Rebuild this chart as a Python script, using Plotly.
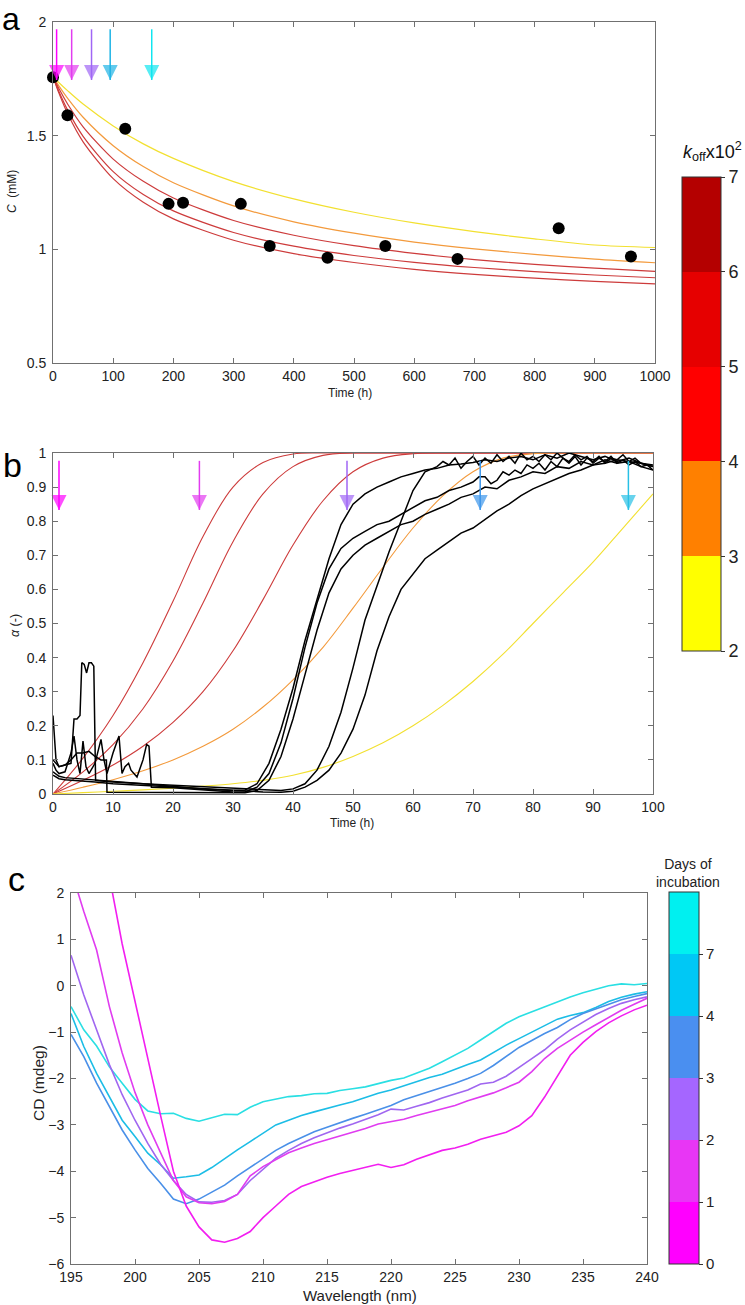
import plotly.graph_objects as go

# ---------------- data: panel a ----------------
a_obs_time = [0, 24, 120, 192, 216, 312, 360, 456, 552, 672, 840, 960]
a_obs_conc = [1.757, 1.59, 1.53, 1.20, 1.205, 1.20, 1.015, 0.963, 1.015, 0.958, 1.093, 0.968]

a_fit_time = [0, 10, 25, 50, 100, 150, 200, 300, 400, 500, 600, 700, 800, 900, 1000]
a_fit_k2 = [1.76, 1.733, 1.696, 1.639, 1.543, 1.464, 1.40, 1.298, 1.222, 1.163, 1.116, 1.078, 1.046, 1.019, 1.008]
a_fit_k3 = [1.76, 1.718, 1.662, 1.581, 1.456, 1.364, 1.293, 1.191, 1.121, 1.071, 1.032, 1.002, 0.978, 0.957, 0.941]
a_fit_k4 = [1.76, 1.706, 1.636, 1.539, 1.397, 1.299, 1.226, 1.127, 1.062, 1.016, 0.982, 0.955, 0.934, 0.917, 0.903]
a_fit_k5 = [1.76, 1.693, 1.609, 1.497, 1.342, 1.241, 1.169, 1.074, 1.014, 0.973, 0.943, 0.920, 0.902, 0.887, 0.875]
a_fit_k6 = [1.76, 1.686, 1.593, 1.473, 1.311, 1.207, 1.134, 1.040, 0.981, 0.942, 0.912, 0.890, 0.873, 0.859, 0.848]

a_arrow_time = [6, 31, 64, 95, 164]
a_arrow_colors = ['#ff00ff', '#e23cf0', '#a066f5', '#1eb4e6', '#10e6f0']
a_arrow_tail, a_arrow_tip = 1.968, 1.745

# ---------------- data: panel b ----------------
b_fit_time = [0, 5, 10, 15, 20, 25, 30, 35, 40, 45, 50, 55, 60, 65, 70, 75, 80, 85, 90, 95, 100]
b_fit_k6 = [0, 0.105, 0.23, 0.385, 0.565, 0.755, 0.90, 0.972, 0.997, 1, 1, 1, 1, 1, 1, 1, 1, 1, 1, 1, 1]
b_fit_k5 = [0, 0.065, 0.145, 0.25, 0.39, 0.56, 0.74, 0.88, 0.96, 0.993, 1, 1, 1, 1, 1, 1, 1, 1, 1, 1, 1]
b_fit_k4 = [0, 0.04, 0.085, 0.14, 0.21, 0.30, 0.42, 0.57, 0.73, 0.86, 0.945, 0.985, 0.998, 1, 1, 1, 1, 1, 1, 1, 1]
b_fit_k3 = [0, 0.02, 0.042, 0.068, 0.10, 0.14, 0.19, 0.255, 0.335, 0.43, 0.545, 0.665, 0.78, 0.875, 0.945, 0.985, 0.998, 1, 1, 1, 1]
b_fit_k2 = [0, 0.004, 0.008, 0.012, 0.017, 0.023, 0.03, 0.04, 0.055, 0.078, 0.11, 0.15, 0.20, 0.26, 0.33, 0.41, 0.50, 0.59, 0.68, 0.78, 0.88]

b_exp1_t = [0, 0.5, 1, 2, 3, 3.5, 4, 4.5, 4.8, 5.2, 5.6, 6, 6.4, 6.8, 7.1, 8, 10, 15, 20, 25,
            30, 32, 34, 36, 38, 40, 42, 44, 46, 48, 50, 52, 54, 56, 58, 60, 62, 64, 66, 68,
            70, 72, 74, 76, 78, 80, 82, 84, 86, 88, 90, 92, 94, 96, 98, 100]
b_exp1_a = [0.23, 0.10, 0.08, 0.085, 0.09, 0.22, 0.22, 0.23, 0.385, 0.38, 0.355, 0.385, 0.385, 0.375, 0.04, 0.038, 0.035, 0.03, 0.022, 0.015,
            0.01, 0.012, 0.03, 0.09, 0.19, 0.31, 0.45, 0.57, 0.69, 0.79, 0.85, 0.88, 0.90, 0.915, 0.93, 0.94, 0.95, 0.955, 0.965, 0.968,
            0.972, 0.98, 0.975, 0.985, 0.99, 0.98, 0.995, 0.985, 1.0, 0.99, 0.98, 0.99, 0.975, 0.985, 0.97, 0.96]

b_exp2_t = [0, 0.5, 1, 2, 3, 3.5, 4, 4.5, 5, 5.5, 6, 7, 8, 8.5, 9, 10, 11, 11.5, 12, 12.6,
            13, 14, 15, 15.6, 16, 16.4, 20, 25, 30, 32, 34, 36, 38, 40, 42, 44, 46, 48, 50, 52,
            54, 56, 58, 60, 62, 64, 66, 68] + list(range(70, 101))
b_exp2_a = [0.09, 0.07, 0.06, 0.065, 0.12, 0.17, 0.10, 0.06, 0.155, 0.08, 0.06, 0.09, 0.16, 0.10, 0.06, 0.12, 0.17, 0.06, 0.08, 0.09,
            0.07, 0.05, 0.10, 0.145, 0.14, 0.02, 0.018, 0.012, 0.006, 0.006, 0.02, 0.06, 0.15, 0.28, 0.43, 0.56, 0.66, 0.72, 0.75, 0.77,
            0.79, 0.80, 0.82, 0.84, 0.86, 0.87, 0.89, 0.90,
            0.915, 0.93, 0.93, 0.91, 0.92, 0.945, 0.935, 0.95, 0.94, 0.965, 0.955, 0.97, 0.95, 0.975, 0.96, 0.985,
            0.97, 0.99, 0.965, 0.985, 0.975, 0.99, 0.97, 0.985, 0.98, 0.995, 0.975, 0.985, 0.97, 0.965, 0.96]

b_exp3_t = [0, 1, 2, 3, 4, 5, 6, 7, 8, 8.9, 9, 10, 15, 20, 25, 30, 32, 34, 36, 38,
            40, 42, 44, 46, 48, 50, 52, 54, 56, 58, 60, 62, 64, 66, 68, 70, 72, 74, 76, 78,
            80, 82, 84, 86, 88, 90, 92, 94, 96, 98, 100]
b_exp3_a = [0.10, 0.08, 0.085, 0.10, 0.12, 0.12, 0.125, 0.11, 0.10, 0.10, 0.005, 0.005, 0.004, 0.004, 0.003, 0.003, 0.004, 0.01, 0.04, 0.11,
            0.22, 0.35, 0.48, 0.59, 0.66, 0.70, 0.73, 0.75, 0.77, 0.79, 0.80, 0.82, 0.835, 0.85, 0.87, 0.88, 0.90, 0.895, 0.92, 0.93,
            0.945, 0.94, 0.96, 0.955, 0.975, 0.965, 0.98, 0.97, 0.975, 0.96, 0.95]

b_exp4_t = [0, 1, 2, 4, 7, 10, 15, 20, 25, 30, 35, 38, 40, 42, 44, 46, 48, 50, 52, 54,
            56, 58, 60, 62] + list(range(64, 101))
b_exp4_a = [0.065, 0.052, 0.048, 0.045, 0.04, 0.036, 0.03, 0.026, 0.022, 0.018, 0.014, 0.01, 0.015, 0.03, 0.07, 0.14, 0.24, 0.37, 0.51, 0.61,
            0.71, 0.80, 0.89, 0.945,
            0.96, 0.975, 0.965, 0.985, 0.955, 0.975, 0.99, 0.965, 0.985, 0.97, 0.995, 0.975, 0.99, 0.97, 1.0, 0.98,
            0.99, 0.975, 0.995, 0.98, 1.0, 0.985, 0.975, 0.995, 0.98, 0.99, 0.97, 0.985, 0.975, 0.99, 0.97, 0.98,
            0.965, 0.975, 0.96, 0.965, 0.95]

b_exp5_t = [0, 1, 2, 4, 7, 10, 15, 20, 25, 30, 35, 38, 40, 42, 44, 46, 48, 50, 52, 54,
            56, 58, 60, 62, 64, 66, 68, 70, 72, 74, 76, 78, 80, 82, 84, 86, 88, 90, 92, 94,
            96, 98, 100]
b_exp5_a = [0.055, 0.045, 0.042, 0.04, 0.035, 0.03, 0.025, 0.02, 0.015, 0.01, 0.006, 0.005, 0.008, 0.02, 0.04, 0.07, 0.12, 0.19, 0.29, 0.42,
            0.52, 0.60, 0.645, 0.69, 0.715, 0.74, 0.765, 0.78, 0.805, 0.83, 0.85, 0.875, 0.895, 0.91, 0.925, 0.94, 0.95, 0.965, 0.97, 0.98,
            0.975, 0.97, 0.965]

b_arrow_time = [1, 24.4, 49, 71.2, 95.9]
b_arrow_colors = ['#ff00ff', '#e23cf0', '#a066f5', '#3c96eb', '#28c0e6']
b_arrow_tail, b_arrow_tip = 0.977, 0.833

# ---------------- data: panel c ----------------
wavelength = list(range(195, 241))
cd_day7 = [-0.45, -0.95, -1.30, -1.75, -2.10, -2.45, -2.70, -2.76, -2.75, -2.86, -2.92, -2.84, -2.77, -2.78, -2.62, -2.50,
           -2.44, -2.39, -2.37, -2.33, -2.32, -2.26, -2.22, -2.18, -2.11, -2.04, -1.99, -1.89, -1.78, -1.64, -1.49, -1.35,
           -1.17, -0.99, -0.81, -0.67, -0.56, -0.45, -0.34, -0.24, -0.15, -0.08, 0.00, 0.04, 0.02, 0.05]
cd_day4 = [-0.60, -1.31, -1.89, -2.39, -2.90, -3.25, -3.61, -3.86, -4.15, -4.12, -4.08, -3.92, -3.72, -3.54, -3.36, -3.18,
           -3.00, -2.90, -2.80, -2.72, -2.64, -2.57, -2.50, -2.41, -2.32, -2.25, -2.16, -2.07, -1.98, -1.91, -1.80, -1.70,
           -1.60, -1.44, -1.28, -1.14, -1.00, -0.86, -0.72, -0.64, -0.58, -0.47, -0.34, -0.25, -0.18, -0.13]
cd_day3 = [-1.05, -1.53, -2.10, -2.61, -3.11, -3.54, -3.94, -4.26, -4.60, -4.70, -4.60, -4.45, -4.30, -4.10, -3.92, -3.73,
           -3.55, -3.40, -3.28, -3.15, -3.05, -2.95, -2.86, -2.77, -2.68, -2.58, -2.46, -2.37, -2.28, -2.20, -2.10, -2.00,
           -1.89, -1.72, -1.52, -1.33, -1.18, -1.03, -0.90, -0.73, -0.60, -0.50, -0.41, -0.30, -0.23, -0.17]
cd_day2 = [0.66, -0.20, -0.95, -1.70, -2.35, -2.90, -3.40, -3.85, -4.20, -4.50, -4.66, -4.67, -4.63, -4.50, -4.20, -3.95,
           -3.72, -3.55, -3.40, -3.28, -3.17, -3.07, -2.98, -2.88, -2.78, -2.66, -2.68, -2.60, -2.52, -2.42, -2.33, -2.25,
           -2.12, -2.08, -1.95, -1.75, -1.57, -1.38, -1.15, -0.95, -0.78, -0.62, -0.49, -0.38, -0.30, -0.24]
cd_day1 = [2.50, 1.60, 0.77, -0.45, -1.45, -2.30, -3.00, -3.60, -4.20, -4.55, -4.68, -4.70, -4.65, -4.50, -4.10, -3.90,
           -3.75, -3.60, -3.50, -3.40, -3.32, -3.24, -3.15, -3.08, -2.98, -2.93, -2.88, -2.80, -2.73, -2.66, -2.58, -2.48,
           -2.39, -2.31, -2.20, -2.08, -1.85, -1.57, -1.35, -1.17, -1.00, -0.84, -0.68, -0.53, -0.40, -0.27]
cd_day0 = [6.00, 4.80, 3.60, 2.35, 0.90, -0.35, -1.60, -2.80, -4.00, -4.75, -5.20, -5.48, -5.53, -5.45, -5.30, -5.00,
           -4.75, -4.50, -4.33, -4.23, -4.13, -4.05, -3.98, -3.92, -3.85, -3.92, -3.86, -3.74, -3.64, -3.55, -3.50, -3.42,
           -3.31, -3.24, -3.16, -3.02, -2.80, -2.40, -1.95, -1.50, -1.22, -0.99, -0.80, -0.65, -0.52, -0.42]

# colour bars
koff_ticks = [2, 3, 4, 5, 6, 7]
koff_colors = ['#ffff00', '#ff8000', '#ff0000', '#e60000', '#b40000']
day_ticktext = ['0', '1', '2', '3', '4', '7']
day_colors = ['#ff00ff', '#e836f5', '#a566ff', '#4a8ff0', '#00c8f5', '#00f0f0']

# ---------------- layout helpers ----------------
W, H = 745, 1305
FONT = 'Liberation Sans, Arial, sans-serif'


def fx(px):
    return px / W


def fy(py):
    return 1 - py / H


def step_scale(colors):
    n = len(colors)
    cs = []
    for i, c in enumerate(colors):
        cs.append([i / n, c])
        cs.append([(i + 1) / n, c])
    return cs


fig = go.Figure()

RED = '#cd3b3b'
ORANGE = '#f39a3c'
YELLOW = '#f2e030'

# panel a fits
for ys, col in [(a_fit_k2, YELLOW), (a_fit_k3, ORANGE), (a_fit_k4, RED), (a_fit_k5, RED), (a_fit_k6, RED)]:
    fig.add_trace(go.Scatter(x=a_fit_time, y=ys, mode='lines', line=dict(color=col, width=1.2, shape='spline', smoothing=0.8),
                             xaxis='x', yaxis='y', hoverinfo='skip'))
fig.add_trace(go.Scatter(x=a_obs_time, y=a_obs_conc, mode='markers', marker=dict(color='black', size=12),
                         xaxis='x', yaxis='y', cliponaxis=False))

# panel b fits
for ys, col in [(b_fit_k6, RED), (b_fit_k5, RED), (b_fit_k4, RED), (b_fit_k3, ORANGE), (b_fit_k2, YELLOW)]:
    fig.add_trace(go.Scatter(x=b_fit_time, y=ys, mode='lines', line=dict(color=col, width=1.1, shape='spline', smoothing=1.0),
                             xaxis='x2', yaxis='y2', hoverinfo='skip'))
for tt, aa in [(b_exp1_t, b_exp1_a), (b_exp2_t, b_exp2_a), (b_exp3_t, b_exp3_a), (b_exp4_t, b_exp4_a), (b_exp5_t, b_exp5_a)]:
    fig.add_trace(go.Scatter(x=tt, y=aa, mode='lines', line=dict(color='black', width=1.5),
                             xaxis='x2', yaxis='y2', hoverinfo='skip'))

# panel c spectra
for ys, col in [(cd_day7, '#2adfe3'), (cd_day4, '#1cbde6'), (cd_day3, '#4a90e8'),
                (cd_day2, '#a066f0'), (cd_day1, '#e03cf0'), (cd_day0, '#f21ef0')]:
    fig.add_trace(go.Scatter(x=wavelength, y=ys, mode='lines', line=dict(color=col, width=1.6),
                             xaxis='x3', yaxis='y3', hoverinfo='skip'))

# arrows (shaft + head marker whose tip sits on the data point)
for tlist, cols, tail, tip, xa, ya in [(a_arrow_time, a_arrow_colors, a_arrow_tail, a_arrow_tip, 'x', 'y'),
                                       (b_arrow_time, b_arrow_colors, b_arrow_tail, b_arrow_tip, 'x2', 'y2')]:
    for t, c in zip(tlist, cols):
        fig.add_trace(go.Scatter(x=[t, t], y=[tail, tip], mode='lines+markers', xaxis=xa, yaxis=ya,
                                 line=dict(color=c, width=1.5), cliponaxis=False, hoverinfo='skip',
                                 marker=dict(symbol=['circle', 'arrow-down'], size=[0, 15], color=c, line=dict(width=0))))

# colour bar carriers (outside axis ranges, hidden)
fig.add_trace(go.Scatter(x=[-500], y=[0], mode='markers', marker=dict(color=[koff_ticks[0]], coloraxis='coloraxis', size=1),
                         xaxis='x', yaxis='y', hoverinfo='skip'))
fig.add_trace(go.Scatter(x=[100], y=[-50], mode='markers', marker=dict(color=[0], coloraxis='coloraxis2', size=1),
                         xaxis='x3', yaxis='y3', hoverinfo='skip'))

AX = dict(showline=True, linecolor='#707070', linewidth=1, mirror='ticks', ticks='inside', ticklen=5,
          tickcolor='#707070', showgrid=False, zeroline=False, tickfont=dict(family=FONT, size=14, color='#222'))

fig.update_layout(
    width=W, height=H, margin=dict(l=0, r=0, t=0, b=0, pad=0, autoexpand=False),
    paper_bgcolor='white', plot_bgcolor='white', showlegend=False,
    xaxis=dict(AX, domain=[fx(53), fx(655)], range=[0, 1000], dtick=100, anchor='y'),
    yaxis=dict(AX, domain=[fy(363), fy(22)], range=[0.5, 2], tickvals=[0.5, 1, 1.5, 2], anchor='x', ticklabelstandoff=3),
    xaxis2=dict(AX, domain=[fx(53), fx(653)], range=[0, 100], dtick=10, anchor='y2'),
    yaxis2=dict(AX, domain=[fy(794), fy(453)], range=[0, 1], dtick=0.1, anchor='x2', ticklabelstandoff=3),
    xaxis3=dict(AX, domain=[fx(71), fx(647)], range=[195, 240], dtick=5, anchor='y3'),
    yaxis3=dict(AX, domain=[fy(1264), fy(893)], range=[-6, 2], dtick=1, anchor='x3', ticklabelstandoff=3),
    coloraxis=dict(colorscale=step_scale(koff_colors), cmin=koff_ticks[0], cmax=koff_ticks[-1],
                   colorbar=dict(x=fx(682), xanchor='left', y=fy(177), yanchor='top', xpad=0, ypad=0,
                                 len=474, lenmode='pixels', thickness=39, thicknessmode='pixels',
                                 outlinewidth=1, outlinecolor='#333', tickvals=koff_ticks, ticks='outside', ticklen=4,
                                 tickcolor='#333', tickfont=dict(family=FONT, size=18, color='#222'))),
    coloraxis2=dict(colorscale=step_scale(day_colors), cmin=0, cmax=6,
                    colorbar=dict(x=fx(669), xanchor='left', y=fy(892), yanchor='top', xpad=0, ypad=0,
                                  len=372, lenmode='pixels', thickness=30, thicknessmode='pixels',
                                  outlinewidth=1, outlinecolor='#333', tickvals=[0, 1, 2, 3, 4, 5], ticktext=day_ticktext,
                                  ticks='outside', ticklen=4, tickcolor='#333',
                                  tickfont=dict(family=FONT, size=15, color='#222'))),
)

ann = []
# panel letters
for txt, px, py, size in [('a', 11, 19, 32), ('b', 13, 465, 34), ('c', 16, 879, 34)]:
    ann.append(dict(text=txt, x=fx(px), y=fy(py), xref='paper', yref='paper', showarrow=False,
                    font=dict(family=FONT, size=size, color='black'), xanchor='center', yanchor='middle'))
# axis titles
for txt, px, py, size, ang in [('Time (h)', 350, 393, 12, 0), ('<i>C</i>  (mM)', 12, 192, 12, -90),
                               ('Time (h)', 352, 823, 12, 0), ('<i>α</i> (-)', 15, 625, 12.5, -90),
                               ('Wavelength (nm)', 360, 1295, 15, 0), ('CD (mdeg)', 38, 1083, 15.5, -90)]:
    ann.append(dict(text=txt, x=fx(px), y=fy(py), xref='paper', yref='paper', showarrow=False, textangle=ang,
                    font=dict(family=FONT, size=size, color='#222'), xanchor='center', yanchor='middle'))
# colour bar titles
ann.append(dict(text='<i>k</i><sub>off</sub>x10<sup>2</sup>', x=fx(712), y=fy(152), xref='paper', yref='paper',
                showarrow=False, font=dict(family=FONT, size=18, color='#111'), xanchor='center', yanchor='middle'))
ann.append(dict(text='Days of<br>incubation', x=fx(688), y=fy(873), xref='paper', yref='paper',
                showarrow=False, font=dict(family=FONT, size=14, color='#222'), xanchor='center', yanchor='middle'))
fig.update_layout(annotations=ann)

fig.write_html("out.html", config={'displayModeBar': False},
               post_script="document.body.style.margin='0';document.body.style.overflow='hidden';")
